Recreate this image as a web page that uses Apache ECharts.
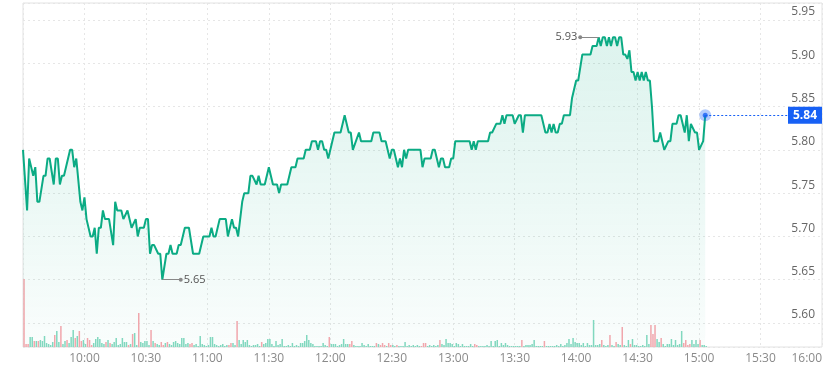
<!DOCTYPE html>
<html>
<head>
<meta charset="utf-8">
<style>
html, body { margin: 0; padding: 0; background: #fff; }
#main { width: 828px; height: 376px; }
</style>
<script src="https://cdn.jsdelivr.net/npm/echarts@6/dist/echarts.min.js"></script>
</head>
<body>
<div id="main"></div>
<script>
// session clock: minutes after 9:30
var xLabels = ['9:30', '10:00', '10:30', '11:00', '11:30', '12:00', '12:30', '13:00', '13:30', '14:00', '14:30', '15:00', '15:30', '16:00'];

// price line, minute -> price
var priceMin = [0, 2, 3, 5, 6, 7, 8, 10, 11, 12, 13, 15, 16, 17, 18, 19, 20, 23, 24, 25, 26, 28, 29, 30, 31, 33, 34, 35, 36, 37, 38, 39, 40, 42, 44, 45, 46, 48, 49, 51, 53, 55, 56, 57, 59,
    60, 61, 62, 63, 64, 66, 67, 68, 70, 71, 72, 73, 75, 76, 77, 79, 81, 83, 86, 88, 91, 92, 93, 94, 96, 99, 100, 102, 103, 104, 105, 107, 108, 110, 111, 112, 114, 115, 116, 118,
    120, 122, 124, 125, 126, 129, 131, 133, 134, 137, 138, 140, 141, 143, 144, 145, 146, 147, 148, 149, 152, 155, 157, 159, 160, 161, 164, 165, 170, 171, 174, 175, 177, 179,
    180, 181, 183, 184, 185, 186, 187, 188, 194, 195, 196, 199, 200, 201, 203, 204, 205, 206, 208, 209, 210, 211, 218, 219, 220, 221, 222, 227, 228, 229, 231, 233, 234, 235, 236, 239,
    240, 242, 243, 244, 245, 253, 255, 256, 257, 258, 259, 260, 261, 262, 263, 264, 267, 268, 269, 270, 271, 273, 277, 278, 280, 281, 282, 283, 284, 285, 286, 287, 288, 289, 290, 291, 292, 293, 294, 295, 296, 297, 298, 299,
    300, 301, 302, 303, 304, 305, 306, 307, 308, 310, 311, 313, 315, 316, 317, 319, 320, 321, 323, 324, 325, 326, 328, 329, 330, 332, 333];
var priceVal = [5.80, 5.73, 5.79, 5.77, 5.78, 5.74, 5.74, 5.77, 5.77, 5.79, 5.79, 5.76, 5.79, 5.79, 5.76, 5.77, 5.77, 5.80, 5.80, 5.78, 5.79, 5.74, 5.73, 5.745, 5.72, 5.70, 5.70, 5.71, 5.68, 5.71, 5.71, 5.73, 5.72, 5.72, 5.69, 5.74, 5.73, 5.73, 5.72, 5.73, 5.71, 5.72, 5.70, 5.71, 5.71,
    5.72, 5.72, 5.68, 5.69, 5.69, 5.68, 5.68, 5.65, 5.68, 5.68, 5.69, 5.68, 5.68, 5.69, 5.69, 5.71, 5.71, 5.68, 5.68, 5.70, 5.70, 5.71, 5.70, 5.70, 5.72, 5.72, 5.70, 5.72, 5.71, 5.71, 5.70, 5.74, 5.75, 5.75, 5.77, 5.77, 5.76, 5.77, 5.76, 5.76,
    5.78, 5.76, 5.76, 5.75, 5.76, 5.76, 5.78, 5.78, 5.79, 5.79, 5.80, 5.80, 5.81, 5.81, 5.80, 5.81, 5.81, 5.80, 5.80, 5.79, 5.82, 5.82, 5.84, 5.82, 5.82, 5.80, 5.82, 5.81, 5.81, 5.82, 5.82, 5.81, 5.81, 5.79,
    5.80, 5.80, 5.78, 5.79, 5.78, 5.80, 5.79, 5.80, 5.80, 5.78, 5.79, 5.79, 5.80, 5.80, 5.78, 5.79, 5.79, 5.78, 5.78, 5.79, 5.79, 5.81, 5.81, 5.80, 5.81, 5.80, 5.81, 5.81, 5.82, 5.82, 5.83, 5.83, 5.84, 5.83, 5.84, 5.84,
    5.83, 5.84, 5.84, 5.82, 5.84, 5.84, 5.82, 5.82, 5.83, 5.82, 5.83, 5.82, 5.82, 5.83, 5.83, 5.84, 5.84, 5.86, 5.87, 5.88, 5.88, 5.91, 5.91, 5.92, 5.92, 5.93, 5.92, 5.93, 5.93, 5.92, 5.93, 5.92, 5.93, 5.93, 5.92, 5.93, 5.93, 5.91, 5.91, 5.905, 5.915, 5.89, 5.89, 5.88,
    5.89, 5.88, 5.89, 5.88, 5.89, 5.88, 5.88, 5.85, 5.81, 5.81, 5.82, 5.80, 5.81, 5.81, 5.83, 5.83, 5.84, 5.84, 5.82, 5.84, 5.81, 5.83, 5.82, 5.82, 5.80, 5.81, 5.84];

// volume, one bar per minute from 9:30
var volume = [
    68, 3, 3, 10, 10, 6, 6, 6, 7, 6, 11, 4, 3, 2, 5, 12, 16, 5, 21, 3, 6, 7, 4, 10, 17, 9, 11, 16, 6, 7,
    3, 9, 7, 2, 4, 8, 10, 8, 4, 3, 5, 7, 4, 3, 5, 9, 2, 3, 9, 5, 5, 2, 3, 13, 14, 2, 34, 5, 4, 6,
    6, 2, 17, 6, 4, 3, 2, 5, 2, 4, 5, 3, 2, 5, 6, 4, 3, 9, 9, 3, 4, 3, 4, 2, 3, 1, 11, 3, 2, 1,
    2, 10, 10, 3, 2, 1, 2, 3, 1, 2, 2, 4, 4, 2, 26, 7, 3, 7, 5, 7, 2, 1, 2, 2, 3, 1, 5, 3, 4, 8,
    8, 3, 1, 6, 2, 3, 8, 1, 1, 2, 1, 4, 1, 2, 1, 4, 4, 6, 12, 7, 4, 3, 1, 1, 1, 1, 4, 2, 1, 10,
    3, 3, 3, 1, 2, 3, 8, 3, 3, 3, 6, 2, 1, 1, 1, 4, 2, 1, 3, 1, 1, 1, 4, 3, 2, 4, 2, 1, 4, 2,
    2, 1, 2, 1, 1, 1, 5, 1, 2, 1, 2, 1, 2, 1, 1, 4, 4, 1, 2, 1, 2, 1, 2, 7, 3, 2, 8, 4, 4, 3,
    1, 4, 3, 1, 3, 1, 1, 1, 3, 1, 3, 2, 1, 1, 1, 1, 2, 1, 6, 1, 6, 7, 1, 4, 2, 4, 2, 1, 1, 1,
    1, 1, 1, 7, 1, 2, 2, 2, 3, 7, 1, 1, 1, 1, 6, 1, 1, 1, 1, 1, 2, 1, 3, 1, 2, 4, 8, 3, 9, 5,
    4, 4, 2, 4, 1, 4, 2, 2, 27, 2, 2, 3, 7, 2, 1, 2, 12, 2, 1, 5, 3, 2, 20, 2, 1, 7, 3, 8, 2, 2,
    1, 1, 2, 1, 12, 3, 22, 13, 22, 8, 5, 9, 3, 1, 3, 3, 8, 2, 7, 2, 3, 16, 4, 7, 2, 3, 7, 3, 7, 3,
    7, 2, 2, 1
];
// minutes whose volume bar is red (down tick)
var volDown = [0, 1, 2, 5, 7, 15, 18, 21, 25, 27, 28, 31, 32, 33, 40, 42, 51, 53, 56, 62, 64, 67, 68, 70, 81, 82, 100, 101, 104, 116, 149, 159, 160, 172, 174, 175, 176, 178, 179, 182,
    194, 195, 196, 203, 220, 221, 243, 254, 282, 286, 289, 292, 296, 306, 307, 308, 311, 322, 323, 324, 325, 330];

var lineColor = '#0bab84';
var blue = '#1760f5';

var priceData = priceMin.map(function (m, i) { return [m, priceVal[i]]; });
var lastM = priceMin[priceMin.length - 1];
var lastP = priceVal[priceVal.length - 1];
var maxI = 0, minI = 0;
priceVal.forEach(function (v, i) {
    if (v > priceVal[maxI]) maxI = i;
    if (v < priceVal[minI]) minI = i;
});

var downSet = {};
volDown.forEach(function (m) { downSet[m] = true; });
var volData = volume.map(function (v, i) {
    return {
        value: [i + 0.5, v],
        itemStyle: { color: downSet[i] ? '#f7a6ad' : '#84d9c0' }
    };
});

function leader(i, dx) {
    return [
        { coord: [priceMin[i], priceVal[i]], symbol: 'none' },
        {
            coord: [priceMin[i] + dx, priceVal[i]], symbol: 'circle', symbolSize: 4,
            label: { show: true, position: 'end', distance: 3, formatter: priceVal[i].toFixed(2), color: '#555', fontSize: 11, fontFamily: 'Open Sans' }
        }
    ];
}

var myChart = echarts.init(document.getElementById('main'));
myChart.setOption({
    animation: false,
    textStyle: { fontFamily: 'Open Sans' },
    grid: [
        { left: 23, right: 6, top: 3, bottom: 29, show: true, borderColor: '#e2e2e2', borderWidth: 1 },
        { left: 23, right: 6, top: 3, bottom: 29 }
    ],
    xAxis: [
        {
            type: 'value', gridIndex: 0, min: 0, max: 390, interval: 30,
            axisLine: { show: false }, axisTick: { show: false },
            axisLabel: {
                formatter: function (v) { return xLabels[Math.round(v / 30)]; },
                color: '#8a8a8a', fontSize: 12, margin: 6,
                showMinLabel: false, alignMaxLabel: 'right'
            },
            splitLine: { show: true, lineStyle: { type: [2, 3], color: '#e6e6e6' } }
        },
        {
            type: 'value', gridIndex: 1, min: 0, max: 390,
            axisLine: { show: false }, axisTick: { show: false }, axisLabel: { show: false }, splitLine: { show: false }
        }
    ],
    yAxis: [
        {
            type: 'value', gridIndex: 0, position: 'right', min: 5.5723, max: 5.9696, splitNumber: 8,
            axisLine: { show: false }, axisTick: { show: false },
            axisLabel: {
                inside: true, margin: 7, showMinLabel: false, showMaxLabel: false,
                formatter: function (v) { return v.toFixed(2); },
                color: '#666', fontSize: 12, verticalAlign: 'bottom', padding: [0, 0, 2, 0]
            },
            splitLine: { show: true, lineStyle: { type: [2, 3], color: '#e6e6e6' } }
        },
        {
            type: 'value', gridIndex: 1, min: 0, max: 344,
            axisLine: { show: false }, axisTick: { show: false }, axisLabel: { show: false }, splitLine: { show: false }
        }
    ],
    series: [
        {
            name: 'volume', type: 'bar', xAxisIndex: 1, yAxisIndex: 1,
            barWidth: 1.5, data: volData, silent: true
        },
        {
            name: 'price', type: 'line', xAxisIndex: 0, yAxisIndex: 0,
            data: priceData, symbol: 'none',
            lineStyle: { color: lineColor, width: 2 },
            areaStyle: {
                origin: 'start',
                color: new echarts.graphic.LinearGradient(0, 0, 0, 1, [
                    { offset: 0, color: 'rgba(11,171,132,0.2)' },
                    { offset: 1, color: 'rgba(11,171,132,0.03)' }
                ])
            },
            markLine: {
                silent: true,
                symbol: 'none',
                lineStyle: { color: '#888', width: 1, type: 'solid' },
                label: { show: false },
                data: [
                    leader(maxI, -9),
                    leader(minI, 9)
                ]
            }
        },
        {
            name: 'last', type: 'scatter', xAxisIndex: 0, yAxisIndex: 0, silent: true, z: 5,
            data: [
                { value: [lastM, lastP], symbolSize: 12, itemStyle: { color: 'rgba(23,96,245,0.4)' } },
                { value: [lastM, lastP], symbolSize: 5, itemStyle: { color: blue } }
            ],
            markLine: {
                silent: true,
                symbol: 'none',
                lineStyle: { color: blue, type: [2, 2], width: 1 },
                label: { show: false },
                data: [[
                    { coord: [lastM, lastP] },
                    { coord: [390, lastP] }
                ]]
            },
            markPoint: {
                silent: true,
                data: [{
                    coord: [390, lastP], symbol: 'rect', symbolSize: [34, 17], symbolOffset: [-17, 0],
                    itemStyle: { color: blue },
                    label: { show: true, formatter: lastP.toFixed(2), color: '#fff', fontWeight: 'bold', fontSize: 12 }
                }]
            }
        }
    ]
});
</script>
</body>
</html>
